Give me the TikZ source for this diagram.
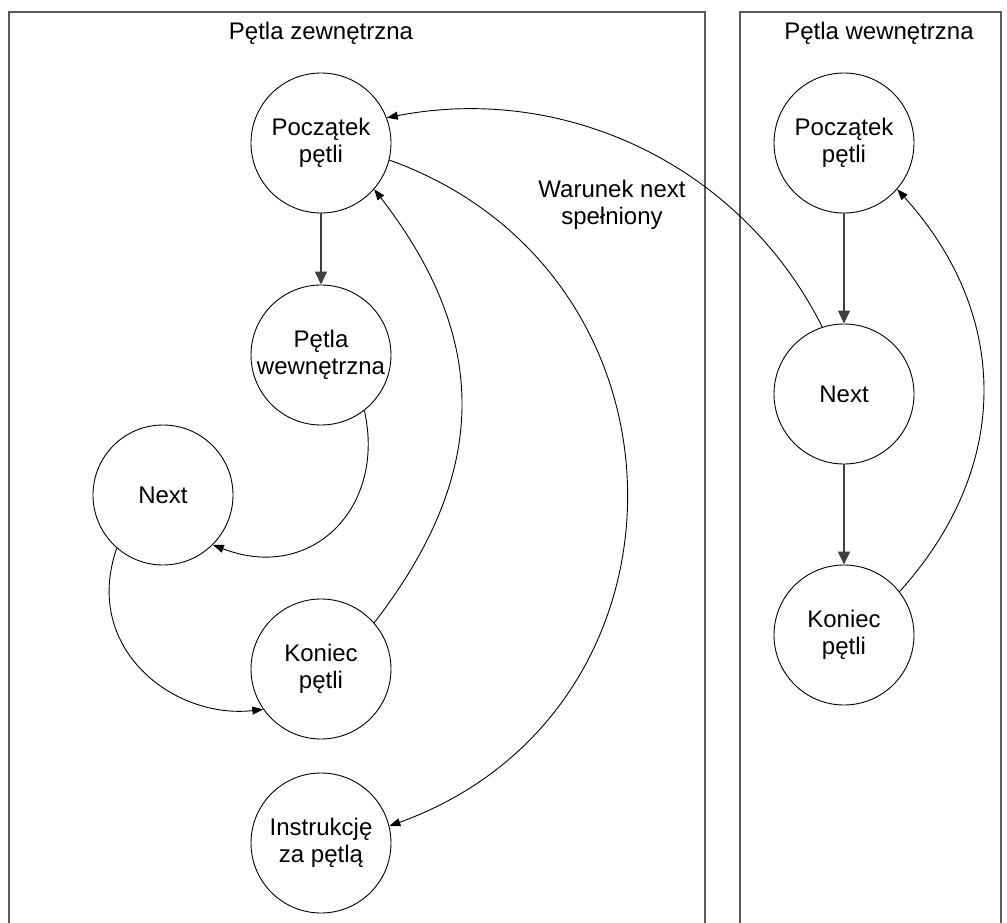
\documentclass[tikz,border=0pt]{standalone}
\usepackage{fontspec}
\setmainfont{Liberation Sans}
\usetikzlibrary{arrows.meta}
\begin{document}
\begin{tikzpicture}[x=1pt,y=-1pt,
  txt/.style={font=\fontsize{24}{27.5}\selectfont},
  state/.style={txt,circle,draw,line width=0.9pt,minimum size=140pt,inner sep=0pt,align=center},
  lane/.style={draw=black!65,line width=1.6pt},
  flow/.style={draw=black!75,line width=1.3pt,-{Triangle[length=13pt,width=12pt]}},
  curvearrow/.style={line width=0.9pt,-{Triangle[length=11pt,width=8pt]}}]
\useasboundingbox[fill=white] (0,0) rectangle (1007,923);

% swimlanes, open at the bottom
\draw[lane] (9,930) -- (9,12) -- (705,12) -- (705,930);
\draw[lane] (740,930) -- (740,12) -- (1001,12) -- (1001,930);
\node[txt] (tout) at (321,33) {Pętla zewnętrzna};
\node[txt] (tin) at (879,33) {Pętla wewnętrzna};

% outer loop states
\node[state] (PL) at (321,143) {Początek\\pętli};
\node[state] (PW) at (321,355) {Pętla\\wewnętrzna};
\node[state] (NL) at (163,495) {Next};
\node[state] (KL) at (321,669) {Koniec\\pętli};
\node[state] (IN) at (321,843) {Instrukcję\\za pętlą};

% inner loop states
\node[state] (PR) at (844,143) {Początek\\pętli};
\node[state] (NR) at (844,394) {Next};
\node[state] (KR) at (844,635) {Koniec\\pętli};

\node[txt,align=center] (cond) at (612,205) {Warunek next\\spełniony};

% straight transitions
\draw[flow] (PL) -- (PW);
\draw[flow] (PR) -- (NR);
\draw[flow] (NR) -- (KR);

% curved transitions
\draw[curvearrow] (PW.-52) .. controls +(22,98) and +(98,38) .. (NL.-45);
\draw[curvearrow] (NL.-131) .. controls +(-35,100) and +(-90,10) .. (KL.-145);
\draw[curvearrow] (KL.41) .. controls +(116,-150) and +(116,150) .. (PL.-41);
\draw[curvearrow] (PL.-14) .. controls +(316,114) and +(316,-114) .. (IN.14);
\draw[curvearrow] (NR.108) .. controls +(-80,-160) and +(180,-35) .. (PL.21);
\draw[curvearrow] (KR.38) .. controls +(113,-125) and +(113,125) .. (PR.-41);
\end{tikzpicture}
\end{document}
